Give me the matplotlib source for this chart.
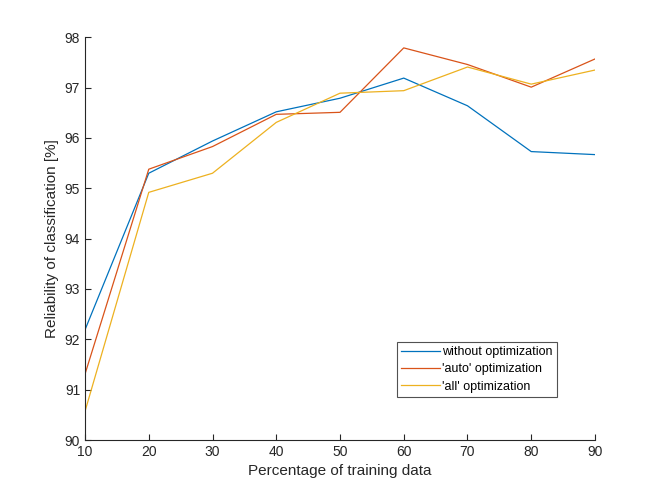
import numpy as np
import matplotlib.pyplot as plt

plt.rcParams['font.family'] = ['Liberation Sans', 'DejaVu Sans']

train_pct = [10, 20, 30, 40, 50, 60, 70, 80, 90]
no_opt = [92.19, 95.30, 95.94, 96.52, 96.79, 97.19, 96.64, 95.73, 95.67]
auto_opt = [91.31, 95.38, 95.83, 96.47, 96.51, 97.79, 97.46, 97.01, 97.57]
all_opt = [90.57, 94.92, 95.30, 96.31, 96.89, 96.94, 97.41, 97.07, 97.35]
labels = ['without optimization', "'auto' optimization", "'all' optimization"]
colors = ['#0072BD', '#D95319', '#EDB120']

fig = plt.figure(figsize=(6.57, 4.95), dpi=100)
ax = fig.add_axes([0.1294, 0.1111, 0.7762, 0.8135])

for ys, lab, c in zip([no_opt, auto_opt, all_opt], labels, colors):
    ax.plot(train_pct, ys, color=c, lw=0.9, label=lab)

ax.set_xlim(10, 90)
ax.set_ylim(90, 98)
ax.set_xticks(train_pct)
ax.set_yticks(np.arange(90, 99, 1))

gray = '#262626'
for s in ['top', 'right']:
    ax.spines[s].set_visible(False)
for s in ['left', 'bottom']:
    ax.spines[s].set_color(gray)
    ax.spines[s].set_linewidth(0.8)
ax.tick_params(direction='in', length=4, width=0.8, colors=gray, labelsize=10)

ax.set_xlabel('Percentage of training data', fontsize=11, color=gray)
ax.set_ylabel('Reliability of classification [%]', fontsize=11, color=gray)

leg = ax.legend(loc='lower left', bbox_to_anchor=(0.604, 0.198, 0.237, 0.105),
                bbox_transform=fig.transFigure, borderaxespad=0, fontsize=9,
                frameon=True, fancybox=False, handlelength=3.1, handletextpad=0.2,
                labelspacing=0.42, borderpad=0.35)
leg.get_frame().set_edgecolor(gray)
leg.get_frame().set_linewidth(0.8)

fig.savefig('out.png', dpi=100)
